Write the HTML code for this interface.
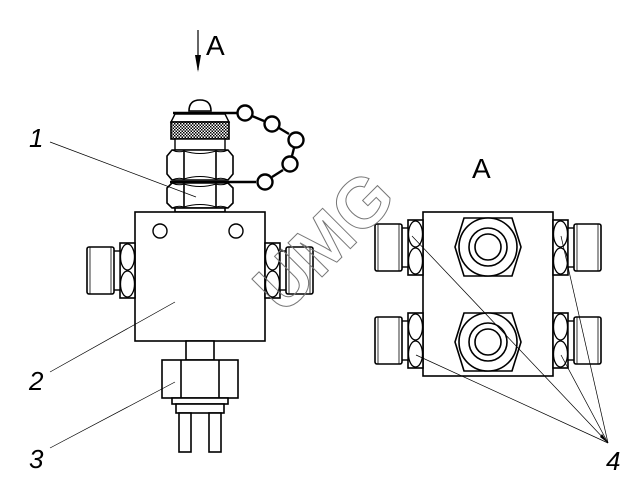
<!DOCTYPE html>
<html><head><style>html,body{margin:0;padding:0;background:#fff}svg{display:block}</style></head><body>
<svg width="641" height="487" viewBox="0 0 641 487" xmlns="http://www.w3.org/2000/svg">
<defs>
<pattern id="kn" width="3" height="3" patternUnits="userSpaceOnUse"><rect width="3" height="3" fill="#fff"/><rect width="1.5" height="1.5" fill="#000"/><rect x="1.5" y="1.5" width="1.5" height="1.5" fill="#000"/></pattern>
<g id="fitL">
 <rect x="-15" y="0" width="15" height="55" fill="#fff" stroke="#000" stroke-width="1.6"/>
 <ellipse cx="-7.5" cy="14" rx="7" ry="13" fill="none" stroke="#000" stroke-width="1.3"/>
 <ellipse cx="-7.5" cy="41" rx="7" ry="13" fill="none" stroke="#000" stroke-width="1.3"/>
 <rect x="-22" y="8" width="7" height="39" fill="#fff" stroke="#000" stroke-width="1.4"/>
 <rect x="-48" y="4" width="27" height="47" rx="2" fill="#fff" stroke="#000" stroke-width="1.6"/>
 <line x1="-45" y1="4" x2="-45" y2="51" stroke="#000" stroke-width="0.8"/>
 <line x1="-24" y1="4" x2="-24" y2="51" stroke="#000" stroke-width="0.8"/>
</g>
<g id="nut">
 <polygon points="-33,0 -24,-29 24,-29 33,0 24,29 -24,29" fill="#fff" stroke="#000" stroke-width="1.6"/>
 <circle r="29" fill="#fff" stroke="#000" stroke-width="1.6"/>
 <circle r="19" fill="none" stroke="#000" stroke-width="1.6"/>
 <circle r="13" fill="none" stroke="#000" stroke-width="1.6"/>
</g>
</defs>

<line x1="198" y1="30" x2="198" y2="70" stroke="#000" stroke-width="1.2"/>
<polygon points="195,55 201,55 198,72" fill="#000"/>
<text x="206" y="55" font-family="Liberation Sans, sans-serif" font-size="28" fill="#000">A</text>
<text x="472" y="178" font-family="Liberation Sans, sans-serif" font-size="28" fill="#000">A</text>

<g stroke="#000" stroke-width="2.4" fill="none">
 <line x1="173" y1="113" x2="237" y2="113"/>
 <line x1="170" y1="182" x2="256" y2="182"/>
 <line x1="252" y1="116" x2="264" y2="121"/>
 <line x1="279" y1="128" x2="289" y2="134"/>
 <line x1="294" y1="148" x2="292" y2="156"/>
 <line x1="283" y1="170" x2="272" y2="177"/>
 <circle cx="245" cy="113" r="7.5" fill="#fff"/>
 <circle cx="272" cy="124" r="7.5" fill="#fff"/>
 <circle cx="296" cy="140" r="7.5" fill="#fff"/>
 <circle cx="290" cy="164" r="7.5" fill="#fff"/>
 <circle cx="265" cy="182" r="7.5" fill="#fff"/>
</g>
<path d="M189 111 Q189 100 200 100 Q211 100 211 111 Z" fill="#fff" stroke="#000" stroke-width="1.6"/>
<path d="M175 114 L171 122 H229 L225 114 Z" fill="#fff" stroke="#000" stroke-width="1.4"/>
<rect x="171" y="122" width="58" height="17" fill="url(#kn)" stroke="#000" stroke-width="1.6"/>
<rect x="175" y="139" width="50" height="11" fill="#fff" stroke="#000" stroke-width="1.4"/>
<g stroke="#000" stroke-width="1.6" fill="#fff">
 <path d="M172 150 H228 L233 156 V174 L228 180 H172 L167 174 V156 Z"/>
 <path d="M184 151 V179 M216 151 V179" fill="none"/>
 <path d="M172 150 Q178 153 184 151 Q200 156 216 151 Q222 153 228 150 M172 180 Q178 177 184 179 Q200 174 216 179 Q222 177 228 180" fill="none" stroke-width="1"/>
 <path d="M172 183 H228 L233 188 V203 L228 208 H172 L167 203 V188 Z"/>
 <path d="M184 184 V207 M216 184 V207" fill="none"/>
 <path d="M172 183 Q178 186 184 184 Q200 189 216 184 Q222 186 228 183 M172 208 Q178 205 184 207 Q200 202 216 207 Q222 205 228 208" fill="none" stroke-width="1"/>
 <rect x="175" y="208" width="50" height="4"/>
</g>
<rect x="135" y="212" width="130" height="129" fill="#fff" stroke="#000" stroke-width="1.6"/>
<circle cx="160" cy="231" r="7" fill="#fff" stroke="#000" stroke-width="1.4"/>
<circle cx="236" cy="231" r="7" fill="#fff" stroke="#000" stroke-width="1.4"/>
<use href="#fitL" x="135" y="243"/>
<g transform="translate(265,243) scale(-1,1)"><use href="#fitL"/></g>
<g stroke="#000" stroke-width="1.6" fill="#fff">
 <rect x="186" y="341" width="28" height="19"/>
 <rect x="162" y="360" width="76" height="38"/>
 <line x1="181" y1="360" x2="181" y2="398"/>
 <line x1="219" y1="360" x2="219" y2="398"/>
 <rect x="172" y="398" width="56" height="6"/>
 <rect x="176" y="404" width="48" height="9"/>
 <rect x="179" y="413" width="12" height="39"/>
 <rect x="209" y="413" width="12" height="39"/>
</g>

<rect x="423" y="212" width="130" height="164" fill="#fff" stroke="#000" stroke-width="1.6"/>
<use href="#nut" x="488" y="247"/>
<use href="#nut" x="488" y="342"/>
<use href="#fitL" x="423" y="220"/>
<use href="#fitL" x="423" y="313"/>
<g transform="translate(553,220) scale(-1,1)"><use href="#fitL"/></g>
<g transform="translate(553,313) scale(-1,1)"><use href="#fitL"/></g>

<g stroke="#000" stroke-width="0.7" fill="none">
 <line x1="50" y1="142" x2="196" y2="197"/>
 <line x1="50" y1="372" x2="175" y2="302"/>
 <line x1="50" y1="448" x2="175" y2="382"/>
 <line x1="412" y1="236" x2="608" y2="443"/>
 <line x1="416" y1="355" x2="608" y2="443"/>
 <line x1="561" y1="236" x2="608" y2="443"/>
 <line x1="561" y1="355" x2="608" y2="443"/>
</g>
<polygon points="608,443 600,437 602,434" fill="#000"/>

<g font-family="Liberation Sans, sans-serif" font-style="italic" font-size="26" fill="#000">
 <text x="29" y="147">1</text>
 <text x="29" y="390">2</text>
 <text x="29" y="468">3</text>
 <text x="606" y="470">4</text>
</g>

<text x="0" y="0" transform="translate(283,316) rotate(-45)" font-family="Liberation Sans, sans-serif" font-weight="bold" font-size="70" fill="none" stroke="#777" stroke-width="1">UMG</text>
</svg>
</body></html>
